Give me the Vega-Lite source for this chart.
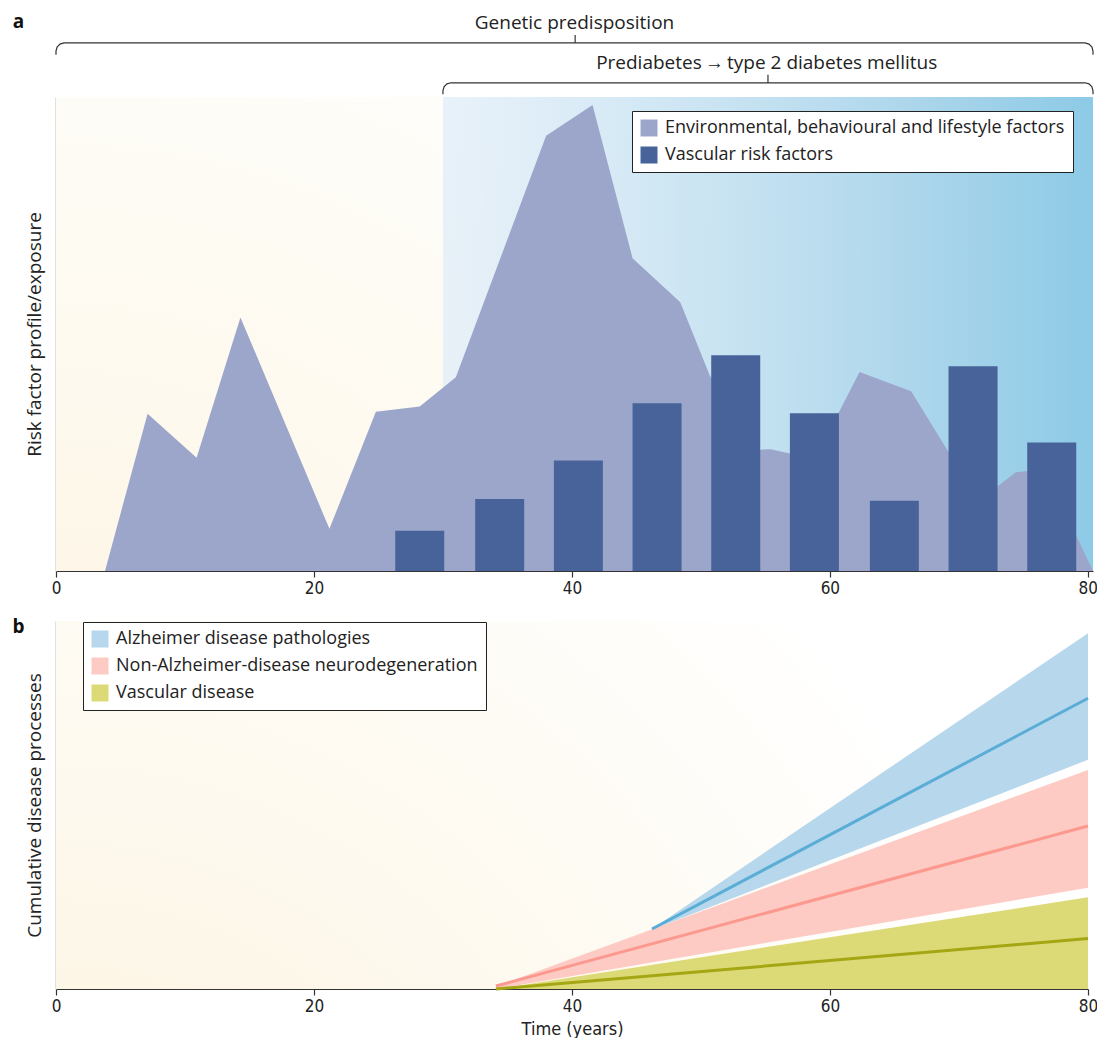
{
  "$schema": "https://vega.github.io/schema/vega-lite/v6.json",
  "background": "white",
  "padding": {"left": 12, "top": 12, "right": 0, "bottom": 0},
  "spacing": 22,
  "datasets": {
    "one": [{}],
    "env": [
      {"t": 3.8, "v": 0}, {"t": 7.1, "v": 33.2}, {"t": 10.9, "v": 23.9}, {"t": 14.3, "v": 53.5},
      {"t": 21.2, "v": 8.9}, {"t": 24.8, "v": 33.6}, {"t": 28.2, "v": 34.7}, {"t": 31.0, "v": 40.9},
      {"t": 38.0, "v": 91.8}, {"t": 41.6, "v": 98.3}, {"t": 44.7, "v": 66.0}, {"t": 48.4, "v": 56.7},
      {"t": 50.7, "v": 41.2}, {"t": 54.6, "v": 25.6}, {"t": 55.4, "v": 25.7}, {"t": 56.9, "v": 24.8},
      {"t": 60.7, "v": 33.5}, {"t": 62.3, "v": 42.0}, {"t": 66.3, "v": 37.9}, {"t": 69.2, "v": 25.1},
      {"t": 73.0, "v": 17.9}, {"t": 74.4, "v": 20.8}, {"t": 75.3, "v": 21.1}, {"t": 79.1, "v": 7.5},
      {"t": 80.4, "v": 0}
    ],
    "vasc": [
      {"start": 26.3, "end": 30.1, "v": 8.5}, {"start": 32.5, "end": 36.3, "v": 15.2},
      {"start": 38.6, "end": 42.4, "v": 23.3}, {"start": 44.7, "end": 48.5, "v": 35.4},
      {"start": 50.8, "end": 54.6, "v": 45.5}, {"start": 56.9, "end": 60.7, "v": 33.3},
      {"start": 63.1, "end": 66.9, "v": 14.8}, {"start": 69.2, "end": 73.0, "v": 43.2},
      {"start": 75.3, "end": 79.1, "v": 27.1}
    ],
    "brackets": [
      {"b": 1, "i": 1, "t": 0, "v": 108.9}, {"b": 1, "i": 2, "t": 0, "v": 109.71}, {"b": 1, "i": 3, "t": 0.083, "v": 110.55},
      {"b": 1, "i": 4, "t": 0.31, "v": 111.17}, {"b": 1, "i": 5, "t": 0.62, "v": 111.4}, {"b": 1, "i": 6, "t": 40.25, "v": 111.4},
      {"b": 1, "i": 7, "t": 40.25, "v": 113.1}, {"b": 1, "i": 8, "t": 40.25, "v": 111.4}, {"b": 1, "i": 9, "t": 79.78, "v": 111.4},
      {"b": 1, "i": 10, "t": 80.09, "v": 111.17}, {"b": 1, "i": 11, "t": 80.317, "v": 110.55}, {"b": 1, "i": 12, "t": 80.4, "v": 109.71},
      {"b": 1, "i": 13, "t": 80.4, "v": 108.9},
      {"b": 2, "i": 1, "t": 30.0, "v": 100.6}, {"b": 2, "i": 2, "t": 30.0, "v": 101.31}, {"b": 2, "i": 3, "t": 30.083, "v": 102.15},
      {"b": 2, "i": 4, "t": 30.31, "v": 102.77}, {"b": 2, "i": 5, "t": 30.62, "v": 103.0}, {"b": 2, "i": 6, "t": 55.2, "v": 103.0},
      {"b": 2, "i": 7, "t": 55.2, "v": 104.7}, {"b": 2, "i": 8, "t": 55.2, "v": 103.0}, {"b": 2, "i": 9, "t": 79.78, "v": 103.0},
      {"b": 2, "i": 10, "t": 80.09, "v": 102.77}, {"b": 2, "i": 11, "t": 80.317, "v": 102.15}, {"b": 2, "i": 12, "t": 80.4, "v": 101.31},
      {"b": 2, "i": 13, "t": 80.4, "v": 100.6}
    ],
    "notesA": [
      {"label": "Genetic predisposition", "t": 40.2, "v": 114.4},
      {"label": "Prediabetes\u2009→\u2009type 2 diabetes mellitus", "t": 55.1, "v": 105.9}
    ],
    "letterA": [{"label": "a", "t": -2.9, "v": 114.6}],
    "letterB": [{"label": "b", "t": -2.9, "v": 96.7}],
    "bands": [
      {"series": "Alzheimer disease pathologies", "t": 46.2, "lo": 16.1, "hi": 16.3},
      {"series": "Alzheimer disease pathologies", "t": 80, "lo": 62.3, "hi": 96.7},
      {"series": "Non-Alzheimer-disease neurodegeneration", "t": 34.1, "lo": 0, "hi": 0.7},
      {"series": "Non-Alzheimer-disease neurodegeneration", "t": 80, "lo": 27.5, "hi": 59.5},
      {"series": "Vascular disease", "t": 34.1, "lo": 0, "hi": 0},
      {"series": "Vascular disease", "t": 80, "lo": 0, "hi": 24.9}
    ],
    "lines": [
      {"series": "Alzheimer disease pathologies", "t": 46.2, "v": 16.3},
      {"series": "Alzheimer disease pathologies", "t": 80, "v": 79.0},
      {"series": "Non-Alzheimer-disease neurodegeneration", "t": 34.1, "v": 0.8},
      {"series": "Non-Alzheimer-disease neurodegeneration", "t": 80, "v": 44.3},
      {"series": "Vascular disease", "t": 34.1, "v": 0},
      {"series": "Vascular disease", "t": 80, "v": 13.7}
    ]
  },
  "vconcat": [
    {
      "width": 1037,
      "height": 474,
      "layer": [
        {
          "data": {"name": "one"},
          "mark": {"type": "rect", "color": {"gradient": "radial", "x1": 0, "y1": 1, "r1": 0, "x2": 0, "y2": 1, "r2": 1,
            "stops": [{"offset": 0, "color": "#fdf3df"}, {"offset": 0.6, "color": "#fefbf3"}, {"offset": 1, "color": "#ffffff"}]}},
          "encoding": {
            "x": {"datum": 0, "type": "quantitative", "scale": {"domain": [0, 80.4], "nice": false}, "title": null, "axis": {"values": [0, 20, 40, 60, 80]}},
            "x2": {"datum": 80.4},
            "y": {"datum": 0, "type": "quantitative", "scale": {"domain": [0, 100], "nice": false}, "title": "Risk factor profile/exposure"},
            "y2": {"datum": 100}
          }
        },
        {
          "data": {"name": "one"},
          "mark": {"type": "rect", "color": {"gradient": "linear", "x1": 0, "y1": 0, "x2": 1, "y2": 0,
            "stops": [{"offset": 0, "color": "rgba(214,232,250,0.55)"}, {"offset": 0.4, "color": "rgba(190,222,240,0.8)"}, {"offset": 0.7, "color": "#afd7ec"}, {"offset": 1, "color": "#8dcae6"}]}},
          "encoding": {
            "x": {"datum": 30, "type": "quantitative", "title": null},
            "x2": {"datum": 80.4},
            "y": {"datum": 0, "type": "quantitative", "title": "Risk factor profile/exposure"},
            "y2": {"datum": 100}
          }
        },
        {
          "data": {"name": "env"},
          "transform": [{"calculate": "'Environmental, behavioural and lifestyle factors'", "as": "cat"}],
          "mark": {"type": "area", "opacity": 1},
          "encoding": {
            "x": {"field": "t", "type": "quantitative", "title": null},
            "y": {"field": "v", "type": "quantitative", "title": "Risk factor profile/exposure"},
            "color": {"field": "cat", "type": "nominal",
              "scale": {"domain": ["Environmental, behavioural and lifestyle factors", "Vascular risk factors"], "range": ["#9ca6cb", "#486399"]},
              "legend": {"title": null, "orient": "none", "legendX": 576, "legendY": 14}}
          }
        },
        {
          "data": {"name": "vasc"},
          "transform": [{"calculate": "'Vascular risk factors'", "as": "cat"}],
          "mark": {"type": "bar"},
          "encoding": {
            "x": {"field": "start", "type": "quantitative", "title": null},
            "x2": {"field": "end"},
            "y": {"field": "v", "type": "quantitative", "title": "Risk factor profile/exposure"},
            "y2": {"datum": 0},
            "color": {"field": "cat", "type": "nominal"}
          }
        },
        {
          "data": {"name": "brackets"},
          "mark": {"type": "line", "color": "#333333", "strokeWidth": 1.2, "clip": false},
          "encoding": {
            "x": {"field": "t", "type": "quantitative", "title": null},
            "y": {"field": "v", "type": "quantitative", "title": "Risk factor profile/exposure"},
            "detail": {"field": "b"},
            "order": {"field": "i"}
          }
        },
        {
          "data": {"name": "notesA"},
          "mark": {"type": "text", "font": "Open Sans", "fontSize": 19, "color": "#222222", "align": "center", "baseline": "alphabetic"},
          "encoding": {
            "x": {"field": "t", "type": "quantitative", "title": null},
            "y": {"field": "v", "type": "quantitative", "title": "Risk factor profile/exposure"},
            "text": {"field": "label"}
          }
        },
        {
          "data": {"name": "letterA"},
          "mark": {"type": "text", "font": "Open Sans", "fontSize": 19, "fontWeight": "bold", "color": "#111111", "align": "center", "baseline": "alphabetic"},
          "encoding": {
            "x": {"field": "t", "type": "quantitative", "title": null},
            "y": {"field": "v", "type": "quantitative", "title": "Risk factor profile/exposure"},
            "text": {"field": "label"}
          }
        }
      ]
    },
    {
      "width": 1032,
      "height": 368,
      "layer": [
        {
          "data": {"name": "one"},
          "mark": {"type": "rect", "color": {"gradient": "radial", "x1": 0, "y1": 1, "r1": 0, "x2": 0, "y2": 1, "r2": 1,
            "stops": [{"offset": 0, "color": "#fcf2dc"}, {"offset": 0.6, "color": "#fefaf1"}, {"offset": 1, "color": "#ffffff"}]}},
          "encoding": {
            "x": {"datum": 0, "type": "quantitative", "scale": {"domain": [0, 80], "nice": false}, "title": "Time (years)", "axis": {"values": [0, 20, 40, 60, 80]}},
            "x2": {"datum": 80},
            "y": {"datum": 0, "type": "quantitative", "scale": {"domain": [0, 100], "nice": false}, "title": "Cumulative disease processes"},
            "y2": {"datum": 100}
          }
        },
        {
          "data": {"name": "bands"},
          "mark": {"type": "area", "opacity": 1},
          "encoding": {
            "x": {"field": "t", "type": "quantitative", "title": "Time (years)"},
            "y": {"field": "hi", "type": "quantitative", "title": "Cumulative disease processes"},
            "y2": {"field": "lo"},
            "fill": {"field": "series", "type": "nominal",
              "scale": {"domain": ["Alzheimer disease pathologies", "Non-Alzheimer-disease neurodegeneration", "Vascular disease"], "range": ["#b6d7ec", "#fecac4", "#dcda77"]},
              "legend": {"title": null, "orient": "none", "legendX": 27, "legendY": 525}}
          }
        },
        {
          "data": {"name": "lines"},
          "mark": {"type": "line", "strokeWidth": 3},
          "encoding": {
            "x": {"field": "t", "type": "quantitative", "title": "Time (years)"},
            "y": {"field": "v", "type": "quantitative", "title": "Cumulative disease processes"},
            "stroke": {"field": "series", "type": "nominal",
              "scale": {"domain": ["Alzheimer disease pathologies", "Non-Alzheimer-disease neurodegeneration", "Vascular disease"], "range": ["#5aadd6", "#fc998f", "#a5a614"]},
              "legend": null}
          }
        },
        {
          "data": {"name": "letterB"},
          "mark": {"type": "text", "font": "Open Sans", "fontSize": 19, "fontWeight": "bold", "color": "#111111", "align": "center", "baseline": "alphabetic"},
          "encoding": {
            "x": {"field": "t", "type": "quantitative", "title": "Time (years)"},
            "y": {"field": "v", "type": "quantitative", "title": "Cumulative disease processes"},
            "text": {"field": "label"}
          }
        }
      ]
    }
  ],
  "config": {
    "view": {"stroke": null},
    "font": "Open Sans",
    "axisX": {"domainColor": "#333333", "domainWidth": 1.2, "tickColor": "#333333", "tickSize": 6, "tickWidth": 1.2,
      "labelFont": "'DejaVu Sans Condensed', 'Liberation Sans', sans-serif", "labelFontSize": 17, "labelColor": "#222222", "labelPadding": 3, "grid": false, "labelFlush": false,
      "titleFont": "'DejaVu Sans Condensed', 'Liberation Sans', sans-serif", "titleFontSize": 18, "titleFontWeight": "normal", "titleColor": "#222222", "titlePadding": 6},
    "axisY": {"domainColor": "#888888", "domainWidth": 1.5, "ticks": false, "labels": false, "grid": false,
      "titleFont": "Open Sans", "titleFontSize": 19, "titleFontWeight": "normal", "titleColor": "#222222", "titlePadding": 12},
    "legend": {"symbolType": "square", "symbolSize": 289, "symbolStrokeWidth": 0, "symbolOpacity": 1,
      "labelFont": "Open Sans", "labelFontSize": 18, "labelColor": "#222222", "labelLimit": 0, "labelOffset": 7,
      "strokeColor": "#222222", "fillColor": "#ffffff", "padding": 8, "rowPadding": 9}
  }
}
